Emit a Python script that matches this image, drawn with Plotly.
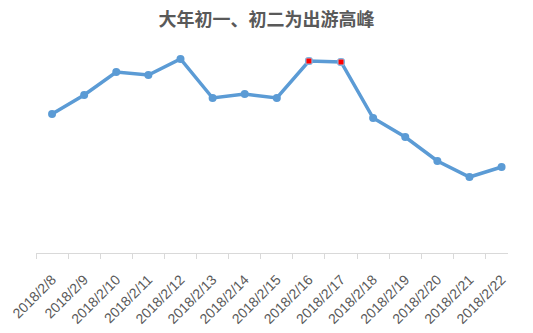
import plotly.graph_objects as go

dates = ["2018/2/8", "2018/2/9", "2018/2/10", "2018/2/11", "2018/2/12", "2018/2/13",
         "2018/2/14", "2018/2/15", "2018/2/16", "2018/2/17", "2018/2/18", "2018/2/19",
         "2018/2/20", "2018/2/21", "2018/2/22"]
values = [139, 158, 181, 178, 194, 155, 159, 155, 192, 191, 135, 116, 92, 76, 86]
highlight = ["2018/2/16", "2018/2/17"]

xs = list(range(len(dates)))
hx = [dates.index(d) for d in highlight]
hy = [values[i] for i in hx]

fig = go.Figure()
fig.add_trace(go.Scatter(
    x=xs, y=values, mode="lines+markers",
    line=dict(color="#5B9BD5", width=3.5),
    marker=dict(size=8, color="#5B9BD5"),
    showlegend=False,
))
fig.add_trace(go.Scatter(
    x=hx, y=hy, mode="markers",
    marker=dict(size=6, color="#FF0000", symbol="square",
                line=dict(color="#9DC3E6", width=1)),
    showlegend=False,
))

fig.update_layout(
    width=533, height=333,
    margin=dict(l=36, r=25, t=43, b=80),
    paper_bgcolor="white", plot_bgcolor="white",
    title=dict(text="<b>大年初一、初二为出游高峰</b>", x=0.5, xanchor="center",
               y=1 - 20 / 333, yanchor="middle",
               font=dict(family="Noto Sans CJK SC", size=18, color="#595959")),
    xaxis=dict(
        range=[-0.5, 14.2], tickmode="array", tickvals=xs, ticktext=dates,
        tickangle=-45, ticks="outside", ticklen=12, tickcolor="rgba(0,0,0,0)",
        showgrid=False, zeroline=False, automargin=False,
        showline=True, linecolor="#D9D9D9", linewidth=1,
        tickfont=dict(family="Liberation Sans", size=14, color="#595959"),
        minor=dict(ticks="outside", tick0=0.5, dtick=1, ticklen=5,
                   tickcolor="#D9D9D9", showgrid=False),
    ),
    yaxis=dict(range=[0, 210], visible=False, showgrid=False, zeroline=False),
)

fig.write_html("out.html")
